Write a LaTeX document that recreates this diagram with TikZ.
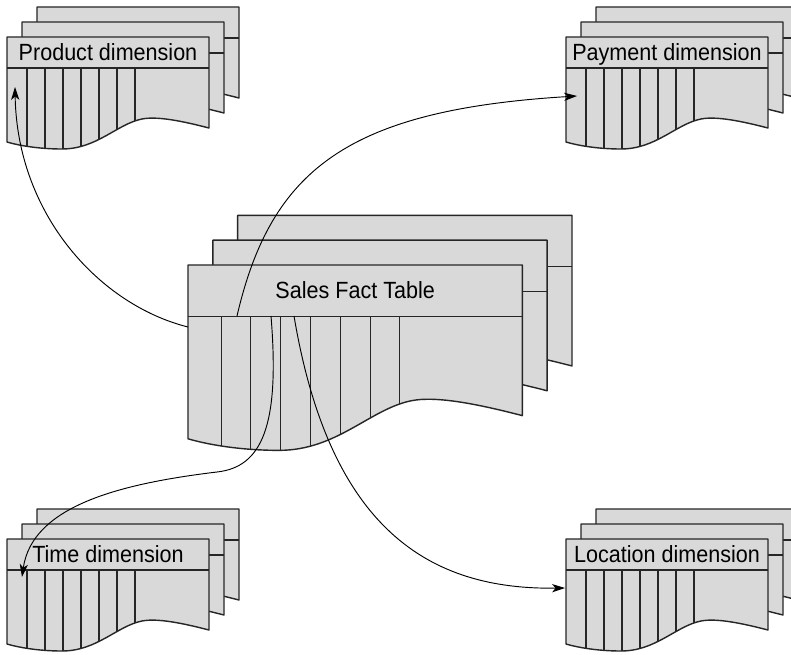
\documentclass[tikz,border=0pt]{standalone}
\usepackage{fontspec}
\newfontfamily\tablefont[FakeStretch=0.92]{Liberation Sans}
\usetikzlibrary{arrows.meta, calc}
\definecolor{sheetgray}{HTML}{D9D9D9}

\begin{document}
\begin{tikzpicture}[
  x=0.03cm, y=-0.03cm,
  sheet/.style={draw=black!85, fill=sheetgray, line width=1.2pt, line join=round},
  sheet shape/.style={insert path={(0,0) -- (202,0) -- (202,91)
      .. controls (175,84) and (150,79) .. (135,82)
      .. controls (110,87) and (90,112) .. (55,112)
      .. controls (30,112) and (10,108) .. (0,105) -- cycle}},
  column/.style={draw=black!85, line width=0.9pt},
  tabletitle/.style={font=\tablefont\fontsize{20pt}{24pt}\selectfont, text=black, inner sep=0pt, text height=14pt, text depth=0pt},
  link/.style={-{Stealth[length=11pt,width=7pt,inset=3pt]}, line width=0.8pt},
  tablestack/.pic={
    % three stacked sheets, the front one last
    \foreach \d in {30,15,0} {
      \draw[sheet, shift={(\d,-\d)}, sheet shape];
      \draw[column, shift={(\d,-\d)}] (0,31) -- (202,31);
    }
    \begin{scope}
      \clip[sheet shape];
      \foreach \cx in {20,38,56,74,92,110,128}
        \draw[column] (\cx,31) -- (\cx,120);
    \end{scope}
    \coordinate (-nw) at (0,0);
    \node[tabletitle] (-title) at (101,15.5) {#1};
  }
]
\useasboundingbox (0,0) rectangle (791,655);
\fill[white] (0,0) rectangle (791,655);

% dimension tables
\pic (prod) at (7,37) {tablestack={Product dimension}};
\pic (pay) at (566,37) {tablestack={Payment dimension}};
\pic (time) at (7,539) {tablestack={Time dimension}};
\pic (loc) at (566,539) {tablestack={Location dimension}};

% fact table
\pic[scale=1.655] (sales) at (188,265) {tablestack={Sales Fact Table}};

% ports for the links
\coordinate (salesW) at ($(sales-nw)+(0,62)$);
\coordinate (salesK2) at ($(sales-nw)+(49,51)$);
\coordinate (salesK3) at ($(sales-nw)+(83,51)$);
\coordinate (salesK4) at ($(sales-nw)+(106,51)$);
\coordinate (timeBend) at ($(sales-nw)+(29,207)$);
\coordinate (prodIn) at ($(prod-nw)+(8,50)$);
\coordinate (payIn) at ($(pay-nw)+(11,59)$);
\coordinate (timeIn) at ($(time-nw)+(15,38)$);
\coordinate (locIn) at ($(loc-nw)+(-1,49)$);

% links fact -> dimensions
\draw[link] (salesW) .. controls +(-88,-22) and +(2,128) .. (prodIn);
\draw[link] (salesK2) .. controls +(34,-146) and +(-230,14) .. (payIn);
\draw[link] (salesK3) .. controls +(9,110) and +(45,-5) .. (timeBend)
  .. controls +(-100,12) and +(10,-70) .. (timeIn);
\draw[link] (salesK4) .. controls +(36,214) and +(-135,2) .. (locIn);

\end{tikzpicture}
\end{document}
